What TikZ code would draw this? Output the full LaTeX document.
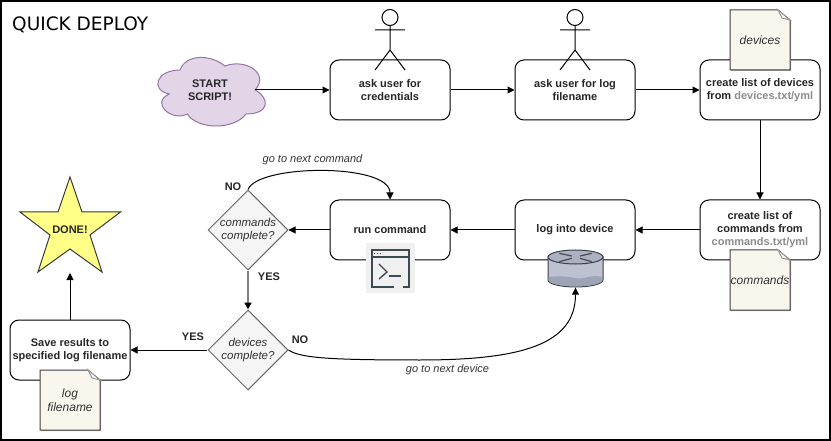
\documentclass[tikz,border=0pt]{standalone}
\usepackage{fontspec}
\setmainfont{Liberation Sans}
\newfontfamily\TitleFont{DejaVu Sans}
\usepackage{xcolor}
\usepackage{tikz}
\usetikzlibrary{positioning,calc,arrows.meta,shapes.geometric}
\definecolor{notecolor}{HTML}{F9F7ED}
\definecolor{checkcolor}{HTML}{F5F5F5}
\definecolor{checkline}{HTML}{666666}
\definecolor{cloudcolor}{HTML}{E1D5E7}
\definecolor{cloudline}{HTML}{9673A6}
\definecolor{starcolor}{HTML}{FFFF88}
\definecolor{starline}{HTML}{36393D}
\definecolor{iconcolor}{HTML}{3C4A52}
\definecolor{routerbody}{HTML}{BEC2D0}
\definecolor{routerbase}{HTML}{9EA3B5}
\definecolor{routertop}{HTML}{ABB0C2}
\definecolor{routerline}{HTML}{3A3F4A}
\newlength{\DeployUnit}
\setlength{\DeployUnit}{1pt}
\newcommand{\DeployFont}{\fontsize{11pt}{13pt}\selectfont}
\newcommand{\DeployNoteFont}{\fontsize{12pt}{14pt}\selectfont\itshape}
\tikzset{
  flow/.style={->, >={Triangle[length=7pt,width=7pt]}, line width=1pt, draw=black},
  stepbox/.style={draw=black, fill=white, line width=1pt, rounded corners=9pt,
    minimum width=120pt, minimum height=60pt, align=center, inner sep=0pt,
    font=\DeployFont\bfseries, text=black!85, anchor=center},
  checkbox/.style={draw=checkline, fill=checkcolor, line width=1pt, shape=diamond, aspect=1,
    minimum width=80pt, minimum height=80pt, inner sep=0pt, align=center,
    font=\fontsize{11.5pt}{13pt}\selectfont\itshape, text=black!80},
  notebox/.style={minimum width=60pt, minimum height=60pt, inner sep=0pt, align=center,
    font=\DeployNoteFont, text=black!80},
  answer/.style={font=\DeployFont\bfseries, inner sep=0pt, text=black!85},
  hint/.style={font=\fontsize{11pt}{13pt}\selectfont\itshape, inner sep=0pt, text=black!80},
  actorline/.style={draw=black, line width=1pt}
}
% page of paper with a folded corner, top left at #2
\newcommand{\DeployNote}[3]{
  \fill[black!35] ($#2+(1,1)$) -- ++(48,0) -- ++(12,10) -- ++(0,50) -- ++(-60,0) -- cycle;
  \draw[fill=notecolor, draw=black!75, line width=1pt]
    #2 -- ++(48,0) -- ++(12,10) -- ++(0,50) -- ++(-60,0) -- cycle;
  \draw[fill=white, draw=black!40, line width=1pt] ($#2+(48,0)$) -- ++(12,10) -- ++(-8,-2) -- cycle;
  \node[notebox] (#1) at ($#2+(30,30)$) {#3};
}
\begin{document}
\begin{tikzpicture}[x=\DeployUnit,y=-\DeployUnit]
    \useasboundingbox (0,0) rectangle (831,441);
    \draw[line width=2pt] (1,1) rectangle (830,440);
    \node[anchor=west, inner sep=0pt, font=\TitleFont\fontsize{18.5pt}{22pt}\selectfont] (title) at (12,25) {QUICK DEPLOY};

    % cloud outline, unit square stretched over its frame
    \begin{scope}[shift={(150,50)}, x=120pt, y=-80pt]
        \draw[draw=cloudline, fill=cloudcolor, line width=1pt] (0.25,0.25)
            .. controls (0.05,0.25) and (0,0.5) .. (0.16,0.55)
            .. controls (0,0.66) and (0.18,0.9) .. (0.31,0.8)
            .. controls (0.4,1) and (0.7,1) .. (0.8,0.8)
            .. controls (1,0.8) and (1,0.6) .. (0.875,0.5)
            .. controls (1,0.3) and (0.8,0.1) .. (0.625,0.2)
            .. controls (0.5,0.05) and (0.3,0.05) .. (0.25,0.25) -- cycle;
    \end{scope}
    \node[align=center, inner sep=0pt, font=\DeployFont\bfseries, text=black!85] (start) at (210,90) {START\\SCRIPT!};
    \coordinate (start-out) at (255,90);

    \node[stepbox] (credentials) at (390,90) {ask user for\\credentials};
    \node[stepbox] (logname) at (575,90) {ask user for log\\filename};
    \node[stepbox] (devicelist) at (760,90) {create list of devices\\from \textcolor{black!45}{devices.txt/yml}};
    \node[stepbox] (commandlist) at (760,230) {create list of\\commands from\\\textcolor{black!45}{commands.txt/yml}};
    \node[stepbox] (login) at (575,230) {log into device};
    \node[stepbox] (runcommand) at (390,230) {run command};
    \node[stepbox] (saveresults) at (70,350) {Save results to\\specified log filename};

    \node[checkbox] (commandcheck) at (248,230) {commands\\complete?};
    \node[checkbox] (devicecheck) at (248,350) {devices\\complete?};

    \draw[draw=starline, fill=starcolor, line width=1pt]
        (70,177) -- (82,212) -- (120.5,212) -- (90,235) -- (102,272)
        -- (70,249) -- (38,272) -- (50,235) -- (20,212) -- (58,212) -- cycle;
    \node[inner sep=0pt, font=\DeployFont\bfseries, text=black!85] (done) at (70,230) {DONE!};
    \coordinate (done-in) at (70,273);

    % stick figures
    \foreach \actor in {390,575} {
        \draw[actorline, fill=white] (\actor,17.5) circle (8);
        \draw[actorline] (\actor,25.5) -- (\actor,50) (\actor-15,30) -- (\actor+15,30)
            (\actor-15,70) -- (\actor,50) -- (\actor+15,70);
    }

    \DeployNote{devicesnote}{(730,10)}{devices}
    \DeployNote{commandsnote}{(730,250)}{commands}
    \DeployNote{lognote}{(40,370)}{log\\filename}

    % terminal icon
    \fill[black!6] (366,243.5) rectangle (415,293);
    \begin{scope}[iconcolor, line width=1.4pt]
        \draw (394,287) -- (372,287) -- (372,250) -- (409,250) -- (409,287) -- (403,287);
        \draw (372,257) -- (409,257);
        \draw (379,264) -- (387,272) -- (379,279);
        \draw (389,276) -- (401,276);
        \foreach \dotx in {374.5,377.5,380.5} {
            \fill (\dotx,253.5) circle (0.6);
        }
    \end{scope}

    % router icon
    \draw[draw=routerline, fill=routerbody, line width=1pt]
        (548,257) -- (548,280) arc[start angle=180, end angle=0, x radius=27.5, y radius=7]
        -- (603,257) -- cycle;
    \fill[routerbase] (548.6,280) arc[start angle=180, end angle=0, x radius=26.9, y radius=6.4]
        -- (602.4,277) .. controls (590,274) and (585,280) .. (575,278) .. controls (565,276) and (558,276) .. (548.6,277) -- cycle;
    \draw[draw=routerline, fill=routertop, line width=1pt] (575.5,257) ellipse (27.5 and 7);
    \draw[draw=black!70, line width=1.2pt]
        (559.3,253.3) -- (571.7,256) (559.3,261.7) -- (571.7,258.3)
        (591.7,253.3) -- (580,256) (591.7,261.7) -- (580,258.3);
    \node[minimum width=55pt, minimum height=37pt, inner sep=0pt] (router) at (575.5,269) {};

    \draw[flow] (start-out) -- (credentials.west);
    \draw[flow] (credentials) -- (logname);
    \draw[flow] (logname) -- (devicelist);
    \draw[flow] (devicelist) -- (commandlist);
    \draw[flow] (commandlist) -- (login);
    \draw[flow] (login) -- (runcommand);
    \draw[flow] (runcommand) -- (commandcheck);
    \draw[flow, draw=black!50, line width=2pt, -{Triangle[length=7pt,width=7pt,black]}] (commandcheck) -- (devicecheck);
    \draw[flow] (devicecheck) -- (saveresults);
    \draw[flow] (saveresults) -- (done-in);
    \draw[flow] (commandcheck.north) .. controls (258,164) and (390,163) .. (runcommand.north);
    \draw[flow] (devicecheck.east) .. controls (300,358) and (330,360) .. (420,360)
        .. controls (520,360) and (575.5,345) .. (router.south);

    \node[hint] (nextcommand) at (312.5,160) {go to next command};
    \node[hint] (nextdevice) at (447.5,370) {go to next device};
    \node[answer] (commandno) at (233,187) {NO};
    \node[answer] (commandyes) at (269,277) {YES};
    \node[answer] (deviceyes) at (193,337) {YES};
    \node[answer] (deviceno) at (300,340) {NO};
\end{tikzpicture}
\end{document}
